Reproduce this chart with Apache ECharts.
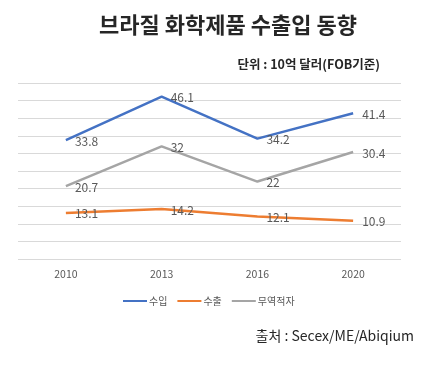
<!DOCTYPE html>
<html><head><meta charset="utf-8">
<script src="https://cdn.jsdelivr.net/npm/echarts@6/dist/echarts.min.js"></script>
<style>html,body{margin:0;padding:0;background:#fff}#c{width:432px;height:365px}</style>
</head><body><div id="c"></div>
<script>
const years = ['2010', '2013', '2016', '2020'];
const imports = [33.8, 46.1, 34.2, 41.4];
const exports_ = [13.1, 14.2, 12.1, 10.9];
const deficit = [20.7, 32, 22, 30.4];
const seriesNames = ['수입', '수출', '무역적자'];
const colors = ['#4472C4', '#ED7D31', '#A5A5A5'];
const FONT = '"Noto Sans CJK KR", "Noto Sans", sans-serif';

const chart = echarts.init(document.getElementById('c'), null, {renderer: 'canvas'});
function mk(name, data, color) {
  return {
    name, type: 'line', data, symbol: 'circle', symbolSize: 0, showSymbol: true, color,
    itemStyle: {color},
    lineStyle: {width: 2.5, color},
    label: {show: true, position: 'right', distance: 9, offset: [0, 1], color: '#595959', fontSize: 12, fontFamily: FONT},
    emphasis: {disabled: true}
  };
}
chart.setOption({
  animation: false,
  textStyle: {fontFamily: FONT},
  title: [
    {text: '브라질 화학제품 수출입 동향', left: 223, top: 9, textAlign: 'center',
     textStyle: {fontSize: 22, fontWeight: 'bold', color: '#262626', fontFamily: FONT}},
    {text: '단위 : 10억 달러(FOB기준)', right: 47, top: 53,
     textStyle: {fontSize: 12.5, fontWeight: 'bold', color: '#262626', fontFamily: FONT}},
    {text: '출처 : Secex/ME/Abiqium', right: 13, top: 324,
     textStyle: {fontSize: 14, fontWeight: 'normal', color: '#262626', fontFamily: FONT}}
  ],
  legend: {
    data: seriesNames.map(n => ({name: n, icon: 'rect'})), left: 118, top: 291, itemWidth: 24, itemHeight: 2, itemGap: 10,
    textStyle: {fontSize: 10, color: '#595959', fontFamily: FONT, padding: [0, 0, 0, -3]}
  },
  grid: {left: 18, right: 31, top: 83, bottom: 106, containLabel: false},
  xAxis: {
    type: 'category', data: years, boundaryGap: true,
    axisLine: {show: false}, axisTick: {show: false},
    axisLabel: {color: '#595959', fontSize: 10.5, margin: 10, fontFamily: FONT}
  },
  yAxis: {
    type: 'value', min: 0, max: 50, interval: 5,
    axisLabel: {show: false}, axisLine: {show: false}, axisTick: {show: false},
    splitLine: {lineStyle: {color: '#D9D9D9', width: 1}}
  },
  series: [
    mk(seriesNames[0], imports, colors[0]),
    mk(seriesNames[1], exports_, colors[1]),
    mk(seriesNames[2], deficit, colors[2])
  ]
});
</script></body></html>
